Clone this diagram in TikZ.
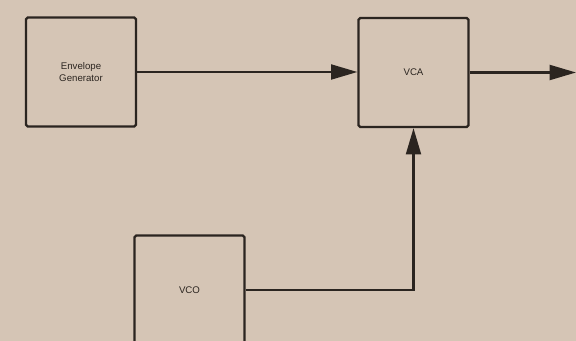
\documentclass[tikz,border=0pt]{standalone}
\usepackage{fontspec}
\setsansfont{Liberation Sans}
\usepackage{xcolor}
\usetikzlibrary{arrows.meta,positioning}
\definecolor{cPaper}{HTML}{D5C5B5}
\definecolor{cInk}{HTML}{2B2520}
\tikzset{
  block/.style={draw=cInk,line width=1.3pt,rounded corners=1pt,
                minimum width=2.2cm,minimum height=2.18cm,inner sep=0pt,
                align=center,font=\sffamily\fontsize{5.5}{6.5}\selectfont,text=cInk},
  sig/.style={-{Triangle[length=15pt,width=8.5pt]},line width=1.3pt,cInk},
  wire/.style={line width=1.3pt,cInk},
}
\begin{document}
\begin{tikzpicture}[x=0.02cm,y=-0.02cm]
  \fill[cPaper] (0,0) rectangle (576,341);
  \useasboundingbox (0,0) rectangle (576,341);
  \node[block](env) at (81,72){Envelope\\Generator};
  \node[block](vca) at (413.5,72.5){VCA};
  \node[block](vco) at (189.5,290){VCO};
  \coordinate (out) at (576,72.5);
  % control paths into the amplifier
  \draw[sig] (env.east) -- (env.east -| vca.west);
  \draw[sig] (vco.east) -| (vca.south);
  \draw[sig] (vca.east) -- (out);
\end{tikzpicture}
\end{document}
